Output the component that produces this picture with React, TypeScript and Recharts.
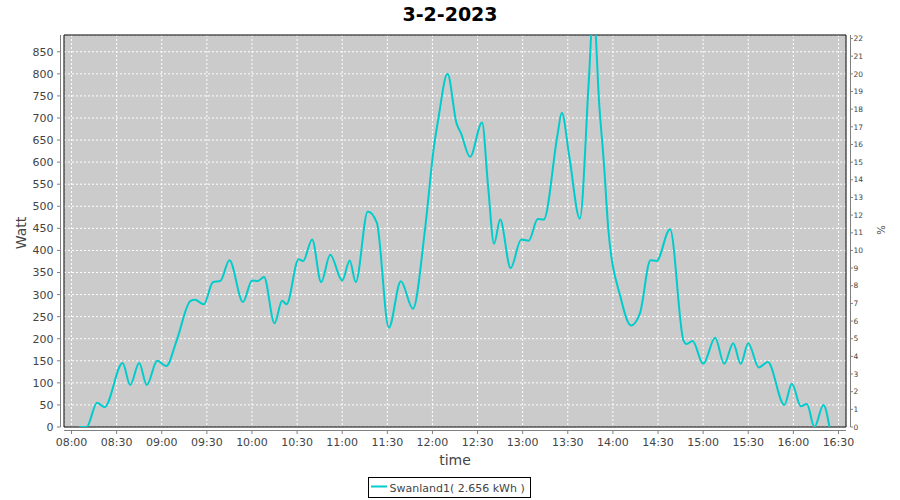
import React from 'react';
import { LineChart, Line, XAxis, YAxis, CartesianGrid, ReferenceArea } from 'recharts';

const chartTitle = '3-2-2023';
const seriesName = 'Swanland1';
const energyLabel = '2.656 kWh';

const times = [
  '08:05', '08:10', '08:17', '08:22', '08:34', '08:39', '08:45', '08:50', '08:57', '09:03',
  '09:10', '09:19', '09:22', '09:28', '09:34', '09:39', '09:45', '09:54', '10:00', '10:04',
  '10:08', '10:15', '10:20', '10:23', '10:31', '10:34', '10:40', '10:46', '10:52', '11:00',
  '11:05', '11:09', '11:17', '11:23', '11:31', '11:39', '11:47', '11:55', '12:01', '12:04',
  '12:10', '12:16', '12:19', '12:25', '12:33', '12:37', '12:41', '12:45', '12:52', '12:59',
  '13:04', '13:10', '13:14', '13:23', '13:26', '13:31', '13:38', '13:44', '13:47', '13:51',
  '13:54', '13:57', '14:05', '14:12', '14:18', '14:25', '14:29', '14:38', '14:47', '14:49',
  '14:53', '15:00', '15:08', '15:14', '15:20', '15:25', '15:30', '15:37', '15:43', '15:54',
  '15:59', '16:05', '16:09', '16:14', '16:20', '16:24',
];

const watts = [
  0, 0, 55, 45, 145, 95, 145, 95, 150, 138,
  197, 285, 288, 278, 328, 331, 378, 283, 332, 331,
  340, 235, 286, 278, 380, 376, 425, 328, 390, 332,
  377, 328, 488, 463, 225, 330, 268, 446, 635, 700,
  800, 688, 665, 612, 690, 545, 415, 470, 360, 425,
  422, 471, 470, 658, 712, 613, 472, 786, 950, 726,
  598, 446, 295, 230, 258, 378, 376, 448, 195, 188,
  195, 143, 202, 143, 190, 143, 190, 135, 147, 50,
  98, 47, 52, 0, 50, 0,
];

const xTickLabels = [
  '08:00', '08:30', '09:00', '09:30', '10:00', '10:30', '11:00', '11:30', '12:00',
  '12:30', '13:00', '13:30', '14:00', '14:30', '15:00', '15:30', '16:00', '16:30',
];
const wattTicks = [0, 50, 100, 150, 200, 250, 300, 350, 400, 450, 500, 550, 600, 650, 700, 750, 800, 850];
const pctTicks = [0, 1, 2, 3, 4, 5, 6, 7, 8, 9, 10, 11, 12, 13, 14, 15, 16, 17, 18, 19, 20, 21, 22];

const toMin = (s: string) => {
  const [h, m] = s.split(':').map(Number);
  return h * 60 + m;
};
const fmt = (v: number) => {
  const h = Math.floor(v / 60);
  const m = v % 60;
  return `${String(h).padStart(2, '0')}:${String(m).padStart(2, '0')}`;
};

const data = times.map((t, i) => ({ t: toMin(t), w: watts[i] }));
const xTicks = xTickLabels.map(toMin);

const FONT = 'DejaVu Sans, Verdana, sans-serif';
const TXT = '#444444';
const AX = '#808080';
const LINE = '#00cccc';

const LeftTick = (props: any) => {
  const { x, y, payload } = props;
  return (
    <g>
      <line x1={x - 7} x2={x - 3.5} y1={y} y2={y} stroke={AX} />
      <text x={x - 10.5} y={y} dy="0.36em" textAnchor="end" fontFamily={FONT} fontSize={11} fill={TXT}>
        {payload.value}
      </text>
    </g>
  );
};

const RightTick = (props: any) => {
  const { x, y, payload } = props;
  return (
    <g>
      <line x1={x + 4.5} x2={x + 7} y1={y} y2={y} stroke={AX} />
      <text x={x + 7.5} y={y} dy="0.36em" textAnchor="start" fontFamily={FONT} fontSize={7.5} fill={TXT}>
        {payload.value}
      </text>
    </g>
  );
};

const BottomTick = (props: any) => {
  const { x, y, payload } = props;
  return (
    <g>
      <line x1={x} x2={x} y1={y + 3.5} y2={y + 7} stroke={AX} />
      <text x={x} y={y + 18.7} textAnchor="middle" fontFamily={FONT} fontSize={11} fill={TXT}>
        {fmt(payload.value)}
      </text>
    </g>
  );
};

export default function App() {
  return (
    <div style={{ position: 'absolute', left: 0, top: 0, width: 900, height: 500, background: '#ffffff' }}>
      <LineChart width={900} height={500} data={data} margin={{ top: 35, right: 0, bottom: 0, left: 0 }}>
        <CartesianGrid
          yAxisId="w"
          stroke="#ffffff"
          strokeDasharray="2 2"
          fill="#cbcbcb"
          fillOpacity={1}
        />
        <XAxis
          dataKey="t"
          type="number"
          domain={[475, 995]}
          ticks={xTicks}
          interval={0}
          height={73}
          allowDataOverflow
          tick={<BottomTick />}
          tickLine={false}
          tickSize={0}
          tickMargin={0}
          axisLine={{ stroke: AX, transform: 'translate(0,3.5)' }}
        />
        <YAxis
          yAxisId="w"
          orientation="left"
          type="number"
          width={64}
          domain={[0, 888]}
          ticks={wattTicks}
          interval={0}
          allowDataOverflow
          tick={<LeftTick />}
          tickLine={false}
          tickSize={0}
          tickMargin={0}
          axisLine={{ stroke: AX, transform: 'translate(-3.5,0)' }}
        />
        <YAxis
          yAxisId="pct"
          orientation="right"
          type="number"
          width={54}
          domain={[0, 22.2]}
          ticks={pctTicks}
          interval={0}
          allowDataOverflow
          tick={<RightTick />}
          tickLine={false}
          tickSize={0}
          tickMargin={0}
          axisLine={{ stroke: AX, transform: 'translate(4.5,0)' }}
        />
        <Line
          yAxisId="w"
          dataKey="w"
          type="monotone"
          stroke={LINE}
          strokeWidth={2}
          dot={false}
          activeDot={false}
          isAnimationActive={false}
        />
        <ReferenceArea
          yAxisId="w"
          x1={475}
          x2={995}
          y1={0}
          y2={888}
          fill="none"
          stroke="#000000"
          strokeWidth={1}
          ifOverflow="visible"
        />
      </LineChart>
      <svg
        width={900}
        height={500}
        style={{ position: 'absolute', left: 0, top: 0, pointerEvents: 'none' }}
      >
        <text x={450} y={21} textAnchor="middle" fontFamily={FONT} fontWeight="bold" fontSize={19} fill="#000">
          {chartTitle}
        </text>
        <text
          x={26}
          y={233}
          transform="rotate(-90 26 233)"
          textAnchor="middle"
          fontFamily={FONT}
          fontSize={14}
          fill={TXT}
        >
          Watt
        </text>
        <text
          x={877}
          y={230}
          transform="rotate(90 877 230)"
          textAnchor="middle"
          fontFamily={FONT}
          fontSize={10}
          fill={TXT}
        >
          %
        </text>
        <text x={455} y={465} textAnchor="middle" fontFamily={FONT} fontSize={14} fill={TXT}>
          time
        </text>
        <rect x={368.5} y={477.5} width={162} height={20} fill="#ffffff" stroke="#000000" />
        <line x1={371} x2={387} y1={486.5} y2={486.5} stroke={LINE} strokeWidth={2} />
        <text x={389.5} y={491.5} fontFamily={FONT} fontSize={11} fill={TXT}>
          {`${seriesName}( ${energyLabel} )`}
        </text>
      </svg>
    </div>
  );
}
